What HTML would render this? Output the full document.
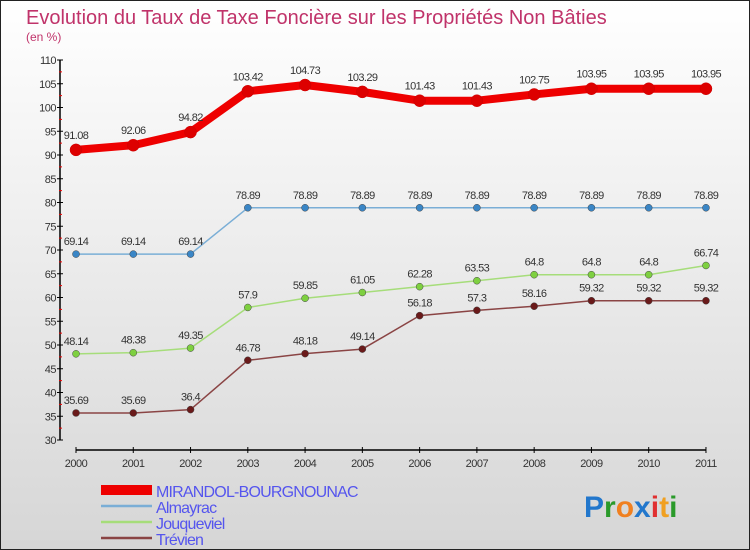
<!DOCTYPE html>
<html><head><meta charset="utf-8"><style>
body{margin:0}
#c{width:750px;height:550px;position:relative;box-sizing:border-box;border:1px solid #222;background:linear-gradient(#fff,#d6d6d6);font-family:"Liberation Sans",sans-serif;overflow:hidden}
</style></head><body>
<div id="c">
<svg id="s" width="748" height="548" style="position:absolute;left:0;top:0">
<text x="25" y="23" font-size="20" fill="#c0336a">Evolution du Taux de Taxe Foncière sur les Propriétés Non Bâties</text>
<text x="25" y="40" font-size="12" fill="#c0336a">(en %)</text>
<g id="ax"></g><g id="ser"></g>
<text x="583" y="516" font-size="30" font-weight="bold"><tspan fill="#2277cc">P</tspan><tspan fill="#2a9a2a">r</tspan><tspan fill="#f08020">o</tspan><tspan fill="#2277cc">x</tspan><tspan fill="#e03030">i</tspan><tspan fill="#f0a020">t</tspan><tspan fill="#2a9a2a">i</tspan></text>
</svg>
</div>
<script>
const years=["2000","2001","2002","2003","2004","2005","2006","2007","2008","2009","2010","2011"];
const yTicks=[30,35,40,45,50,55,60,65,70,75,80,85,90,95,100,105,110];
const mirandol=[91.08,92.06,94.82,103.42,104.73,103.29,101.43,101.43,102.75,103.95,103.95,103.95];
const almayrac=[69.14,69.14,69.14,78.89,78.89,78.89,78.89,78.89,78.89,78.89,78.89,78.89];
const jouqueviel=[48.14,48.38,49.35,57.9,59.85,61.05,62.28,63.53,64.8,64.8,64.8,66.74];
const trevien=[35.69,35.69,36.4,46.78,48.18,49.14,56.18,57.3,58.16,59.32,59.32,59.32];
const names=["MIRANDOL-BOURGNOUNAC","Almayrac","Jouqueviel","Trévien"];
const NS="http://www.w3.org/2000/svg";
const X=i=>75+i*57.27, Y=v=>439-(v-30)*4.75;
function mk(t,a,p){const e=document.createElementNS(NS,t);for(const k in a)e.setAttribute(k,a[k]);p.appendChild(e);return e;}
const ax=document.getElementById('ax'), ser=document.getElementById('ser');
const yl=mk('line',{x1:59,y1:Y(110),x2:59,y2:Y(30),stroke:'#000','stroke-width':1.5},ax);


yTicks.forEach(t=>{
 const l=mk('line',{x1:56,y1:Y(t),x2:62,y2:Y(t),stroke:'#000'},ax);
 
 
 if(t<110)mk('line',{x1:58,y1:Y(t+2.5),x2:61,y2:Y(t+2.5),stroke:'#e00'},ax);
 const tx=mk('text',{x:55,y:Y(t)+4,'font-size':11,fill:'#333','text-anchor':'end','letter-spacing':'-0.5'},ax);
 tx.textContent=t;
 
 
});
const xl=mk('line',{x1:X(0),y1:449,x2:X(11),y2:449,stroke:'#000','stroke-width':1.5},ax);


years.forEach((y,i)=>{
 mk('line',{x1:X(i),y1:446,x2:X(i),y2:452,stroke:'#000'},ax);
 const tx=mk('text',{x:X(i),y:466,'font-size':11,fill:'#333','text-anchor':'middle','letter-spacing':'-0.5'},ax);
 tx.textContent=y;
 
 
});
const series=[[mirandol,'#ee0000','#dd0000',8,6],[almayrac,'#7aaed6','#3a86c6',1.5,3.5],[jouqueviel,'#a6dd7a','#7ed040',1.5,3.5],[trevien,'#8a4444','#6a1a1a',1.5,3.5]];
series.forEach(([d,lc,pc,w,r],si)=>{
 const g=mk('g',{},ser);
 
 
 const p=mk('polyline',{points:d.map((v,i)=>X(i)+','+Y(v)).join(' '),fill:'none',stroke:lc,'stroke-width':w,'stroke-linejoin':'round'},g);
 
 
 d.forEach((v,i)=>{
  const c=mk('circle',{cx:X(i),cy:Y(v),r:r,fill:pc,stroke:si?'#444':'#c00','stroke-width':0.5},g);
  
  
  const t=mk('text',{x:X(i),y:Y(v)-(si?9:11),'font-size':11,fill:'#333','text-anchor':'middle','letter-spacing':'-0.6'},g);
  t.textContent=String(v);
  
  
 });
 const ly=489+si*16;
 const ll=mk('line',{x1:100,y1:ly,x2:151,y2:ly,stroke:lc,'stroke-width':si?2.5:10},ser);
 
 
 const lt=mk('text',{x:155,y:ly+7,'font-size':16,fill:'#5555ee','letter-spacing':'-0.8'},ser);
 lt.textContent=names[si];
 
 
});
</script>
</body></html>
